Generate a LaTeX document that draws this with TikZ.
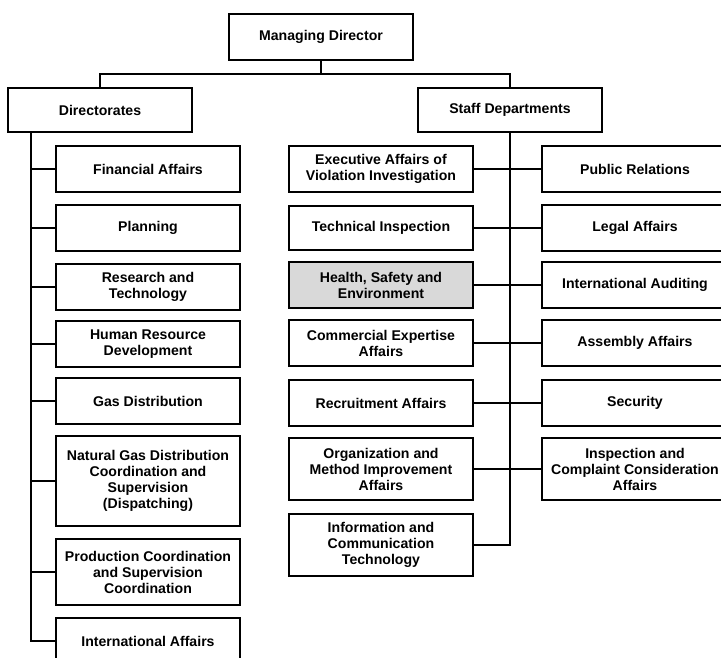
\documentclass[tikz,border=0pt]{standalone}
\usepackage{fontspec}
\setmainfont{Liberation Sans}
\begin{document}
\begin{tikzpicture}[x=1pt,y=-1pt,
  unit/.style={draw=black, line width=2pt, fill=white, rectangle,
    align=center, inner sep=2pt,
    font=\fontsize{14.1}{16}\selectfont\bfseries},
  leftbox/.style={unit, minimum width=184pt},
  midbox/.style={unit, minimum width=184pt},
  rightbox/.style={unit, minimum width=186pt},
  link/.style={draw=black, line width=2pt},
  hse/.style={fill=black!15}]
\useasboundingbox (0,0) rectangle (721,658);
\clip (0,0) rectangle (721,658);

% top level
\node[unit, minimum width=184pt, minimum height=46pt] (md) at (321,37) {Managing Director};
\node[unit, minimum width=184pt, minimum height=44pt] (dir) at (100,110) {Directorates};
\node[unit, minimum width=184pt, minimum height=44pt] (staff) at (510,110) {Staff Departments};

% directorates
\node[leftbox, minimum height=46pt] (fin)  at (148,169) {Financial Affairs};
\node[leftbox, minimum height=46pt] (plan) at (148,228) {Planning};
\node[leftbox, minimum height=46pt] (res)  at (148,287) {Research and\\Technology};
\node[leftbox, minimum height=46pt] (hr)   at (148,344) {Human Resource\\Development};
\node[leftbox, minimum height=46pt] (gas)  at (148,401) {Gas Distribution};
\node[leftbox, minimum height=90pt] (ngd)  at (148,481) {Natural Gas Distribution\\Coordination and\\Supervision\\(Dispatching)};
\node[leftbox, minimum height=66pt] (prod) at (148,572) {Production Coordination\\and Supervision\\Coordination};
\node[leftbox, minimum height=46pt] (intl) at (148,641) {International Affairs};

% staff departments, inner column
\node[midbox, minimum height=46pt] (exec) at (381,169) {Executive Affairs of\\Violation Investigation};
\node[midbox, minimum height=44pt] (tech) at (381,228) {Technical Inspection};
\node[midbox, hse, minimum height=46pt] (hse) at (381,285) {Health, Safety and\\Environment};
\node[midbox, minimum height=46pt] (com)  at (381,343) {Commercial Expertise\\Affairs};
\node[midbox, minimum height=46pt] (rec)  at (381,403) {Recruitment Affairs};
\node[midbox, minimum height=62pt] (org)  at (381,469) {Organization and\\Method Improvement\\Affairs};
\node[midbox, minimum height=62pt] (ict)  at (381,545) {Information and\\Communication\\Technology};

% staff departments, outer column
\node[rightbox, minimum height=46pt] (pr)   at (635,169) {Public Relations};
\node[rightbox, minimum height=46pt] (leg)  at (635,228) {Legal Affairs};
\node[rightbox, minimum height=46pt] (aud)  at (635,285) {International Auditing};
\node[rightbox, minimum height=46pt] (asm)  at (635,343) {Assembly Affairs};
\node[rightbox, minimum height=46pt] (sec)  at (635,403) {Security};
\node[rightbox, minimum height=62pt] (insp) at (635,469) {Inspection and\\Complaint Consideration\\Affairs};

% connectors
\coordinate (dspine) at (31,0);
\draw[link] (md.south) -- ++(0,13) coordinate (mdjoin) -| (dir.north);
\draw[link] (mdjoin) -| (staff.north);
\draw[link] (dir.south -| dspine) |- (intl.west);
\foreach \n in {fin,plan,res,hr,gas,ngd,prod}
  \draw[link] (\n.west) -- (\n.west -| dspine);
\draw[link] (staff.south) |- (ict.east);
\foreach \a/\b in {exec/pr,tech/leg,hse/aud,com/asm,rec/sec,org/insp}
  \draw[link] (\a.east) -- (\b.west);
\end{tikzpicture}
\end{document}
